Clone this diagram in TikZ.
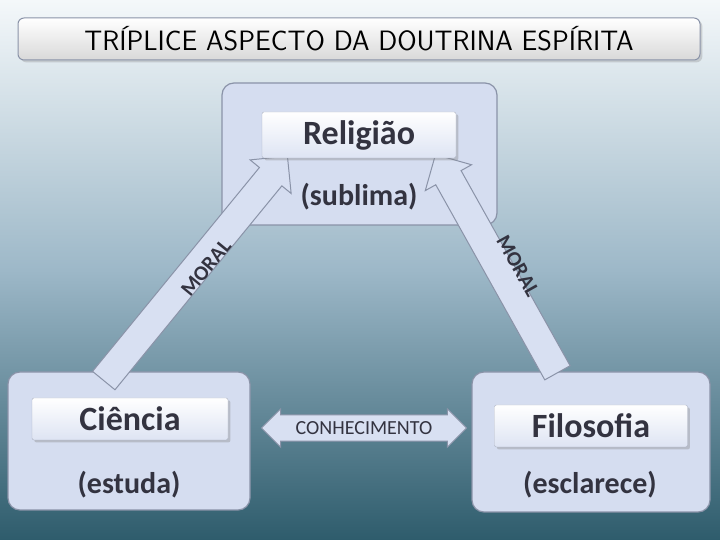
\documentclass[tikz,border=0pt]{standalone}
\usepackage{fontspec}
\setmainfont{Carlito}
\usetikzlibrary{shapes.arrows,shadows}
\definecolor{txt}{HTML}{333340}
\definecolor{boxfill}{HTML}{D5DDF0}
\definecolor{boxline}{HTML}{8A93A8}
\definecolor{arrfill}{HTML}{D8E0F2}
\definecolor{bgtop}{HTML}{F4F8FA}
\definecolor{bgmid}{HTML}{9DB8C8}
\definecolor{bgbot}{HTML}{2E5C6C}
\tikzset{
  panel/.style={draw=boxline,line width=1.2pt,fill=boxfill,rounded corners=12pt},
  lbl/.style={draw=boxline!70,top color=white,bottom color=boxfill!80!white,rounded corners=2pt,
     drop shadow={opacity=0.35},font=\bfseries\fontsize{34}{36}\selectfont,text=txt},
  sub/.style={font=\bfseries\fontsize{30}{32}\selectfont,text=txt},
  blockarrow/.style={single arrow,draw=boxline,fill=arrfill,line width=1pt,
     single arrow head extend=12pt,inner sep=14pt,text=txt},
  moral/.style={font=\bfseries\fontsize{21}{22}\selectfont,text=txt}
}
\begin{document}
\begin{tikzpicture}[x=1pt,y=1pt]
\useasboundingbox (0,0) rectangle (720,540);
\shade[top color=bgtop,bottom color=bgbot,middle color=bgmid] (0,0) rectangle (720,540);
% title
\node[draw=boxline,line width=1pt,top color=white,bottom color=gray!30,rounded corners=6pt,
  minimum width=682pt,minimum height=42pt,drop shadow={opacity=0.3},
  font=\fontsize{28}{30}\selectfont\sffamily,text=black] (title) at (359,501) {TRÍPLICE ASPECTO DA DOUTRINA ESPÍRITA};
% panels
\node[panel,minimum width=275pt,minimum height=142pt] (top) at (359.5,386) {};
\node[panel,minimum width=242pt,minimum height=138pt] (left) at (129,99) {};
\node[panel,minimum width=238pt,minimum height=140pt] (right) at (591,98) {};
% arrows
\node[blockarrow,minimum height=290pt,rotate=50.7] (la) at (191,266) {};
\node[moral,rotate=50.7] (lm) at (206,272) {MORAL};
\node[blockarrow,minimum height=250pt,rotate=119.2] (ra) at (500,270) {};
\node[moral,rotate=-60.8] (rm) at (518,274) {MORAL};
\node[double arrow,draw=boxline,fill=arrfill,line width=1pt,minimum height=205pt,
  double arrow head extend=6pt,inner sep=6pt,font=\fontsize{20}{22}\selectfont,text=txt] (mid) at (364,112) {CONHECIMENTO};
% labels
\node[lbl,minimum width=194pt,minimum height=46pt] (rel) at (359,405) {Religião};
\node[sub] (rels) at (359,343) {(sublima)};
\node[lbl,minimum width=196pt,minimum height=42pt] (cie) at (130,121) {Ciência};
\node[sub] (cies) at (129,55) {(estuda)};
\node[lbl,minimum width=193pt,minimum height=42pt] (fil) at (591,114) {Filosofia};
\node[sub] (fils) at (590,55) {(esclarece)};
\end{tikzpicture}
\end{document}
